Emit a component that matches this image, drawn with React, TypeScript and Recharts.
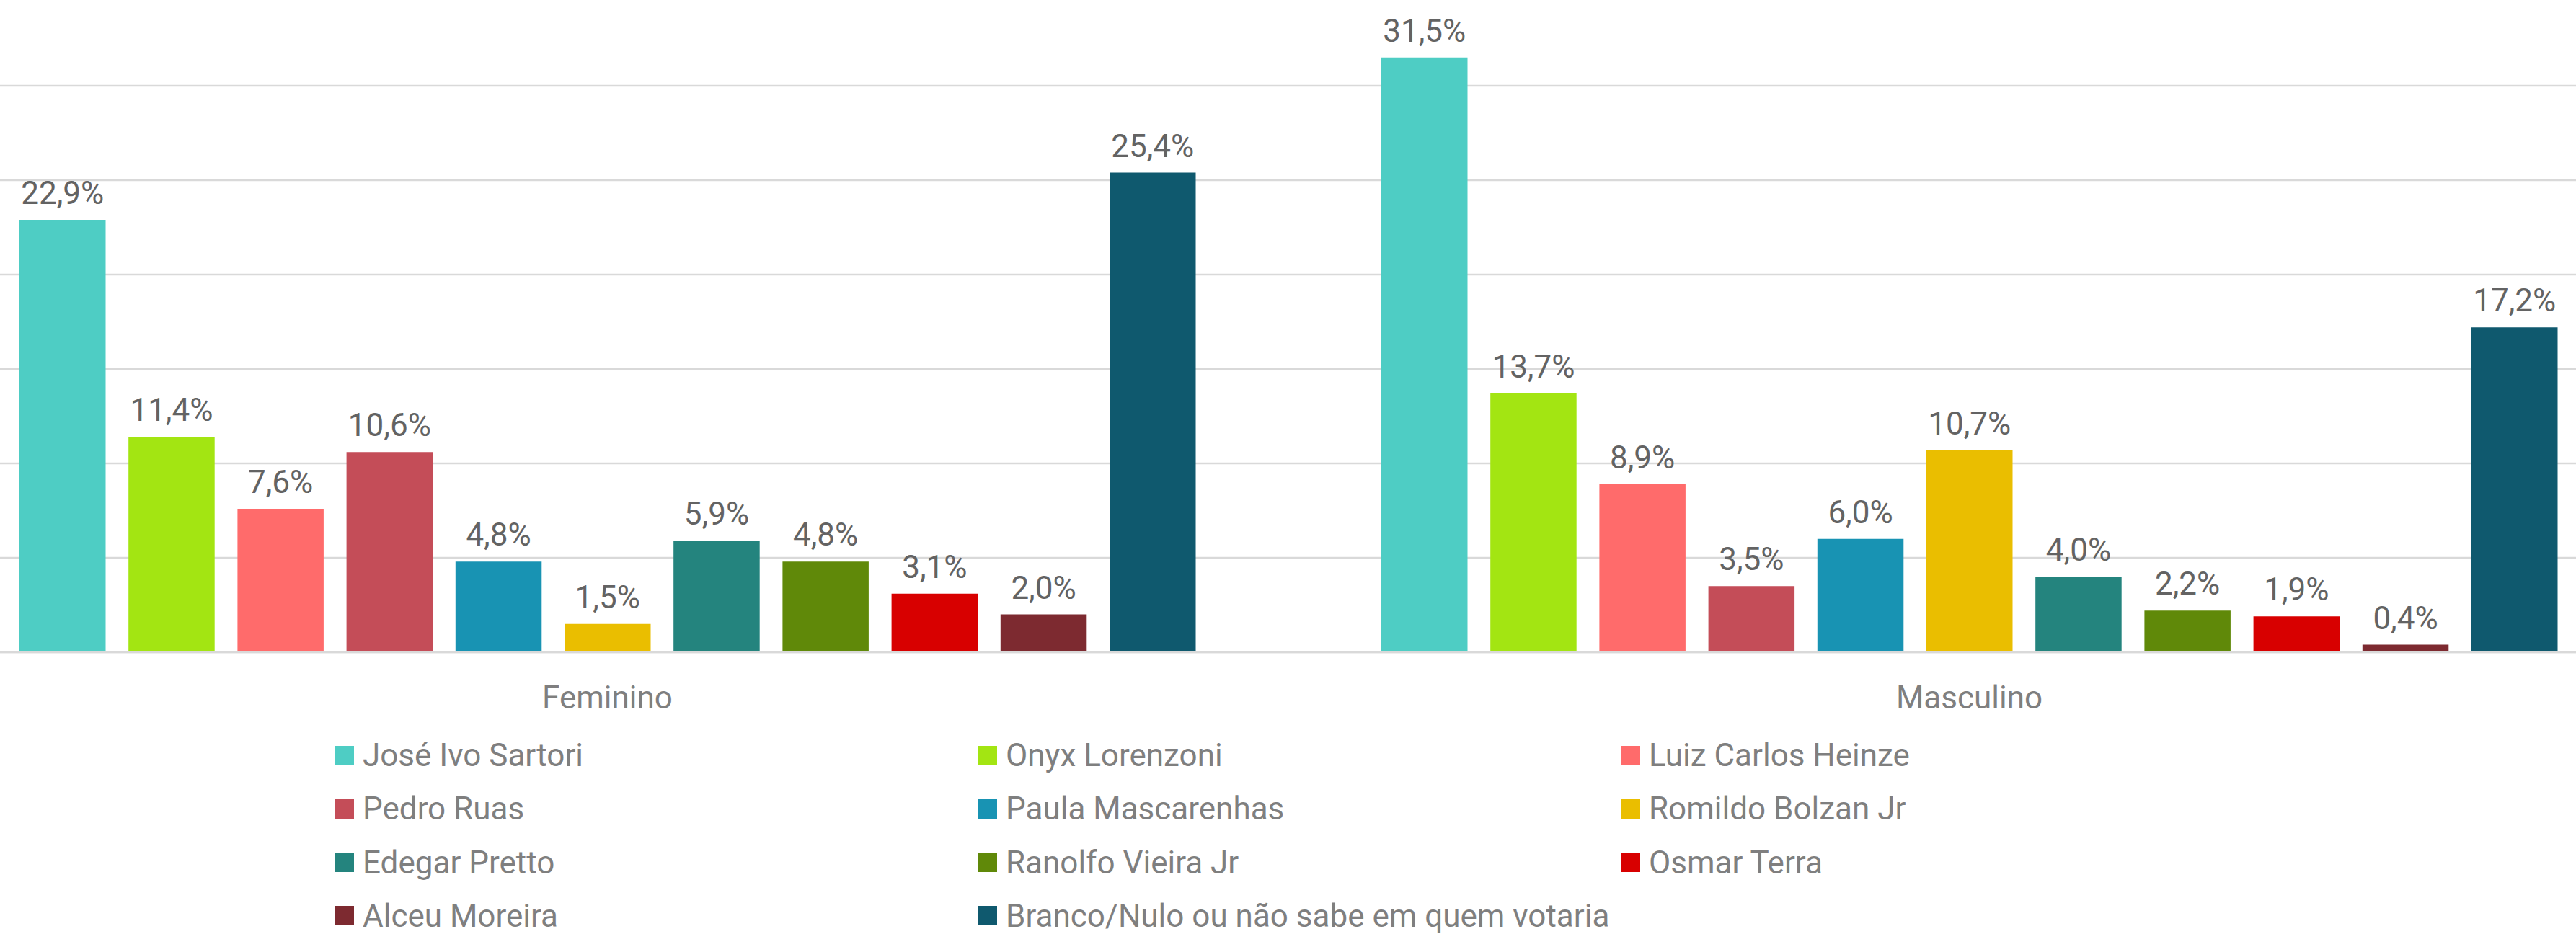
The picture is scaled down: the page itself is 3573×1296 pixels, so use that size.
import { Bar, BarChart, CartesianGrid, LabelList, XAxis, YAxis } from "recharts";

const categories = ["Feminino", "Masculino"];

const candidates = [
  "José Ivo Sartori",
  "Onyx Lorenzoni",
  "Luiz Carlos Heinze",
  "Pedro Ruas",
  "Paula Mascarenhas",
  "Romildo Bolzan Jr",
  "Edegar Pretto",
  "Ranolfo Vieira Jr",
  "Osmar Terra",
  "Alceu Moreira",
  "Branco/Nulo ou não sabe em quem votaria",
];

const colors = [
  "#4ECDC4",
  "#A3E512",
  "#FF6B6B",
  "#C44D58",
  "#1893B3",
  "#EABE00",
  "#24847E",
  "#608909",
  "#D80000",
  "#7D2A30",
  "#0F596E",
];

const feminino = [22.9, 11.4, 7.6, 10.6, 4.8, 1.5, 5.9, 4.8, 3.1, 2.0, 25.4];
const masculino = [31.5, 13.7, 8.9, 3.5, 6.0, 10.7, 4.0, 2.2, 1.9, 0.4, 17.2];

const yTicks = [0, 5, 10, 15, 20, 25, 30, 35];

const data = categories.map((cat, ci) => {
  const row: Record<string, string | number> = { cat };
  const values = ci === 0 ? feminino : masculino;
  candidates.forEach((_, i) => {
    row[`s${i}`] = values[i];
  });
  return row;
});

const FONT = "Roboto, 'Open Sans', sans-serif";

const fmt = (v: unknown) => `${Number(v).toFixed(1).replace(".", ",")}%`;

function ChartLegend() {
  return (
    <>
      {candidates.map((name, i) => {
        const col = i % 3;
        const row = Math.floor(i / 3);
        return (
          <div
            key={name}
            style={{
              position: "absolute",
              left: [464, 1356, 2248][col],
              top: 1048 + row * 74.3 - 30,
              height: 60,
              display: "flex",
              alignItems: "center",
              whiteSpace: "nowrap",
              fontFamily: FONT,
              fontSize: 44,
              color: "#7f7f7f",
            }}
          >
            <span
              style={{
                display: "inline-block",
                width: 27,
                height: 27,
                background: colors[i],
                marginRight: 12,
              }}
            />
            {name}
          </div>
        );
      })}
    </>
  );
}

export default function App() {
  return (
    <div
      style={{
        position: "absolute",
        left: 0,
        top: 0,
        width: 3573,
        height: 1296,
        overflow: "hidden",
        background: "#fff",
      }}
    >
      <div style={{ position: "absolute", left: -102, top: -12 }}>
        <BarChart
          width={3778}
          height={1308}
          data={data}
          margin={{ top: 0, right: 0, bottom: 0, left: 0 }}
          barSize={119.5}
          barGap={31.7}
        >
          <CartesianGrid vertical={false} stroke="#d9d9d9" strokeWidth={2.5} />
          <XAxis
            dataKey="cat"
            height={391}
            tickLine={false}
            axisLine={{ stroke: "#d9d9d9", strokeWidth: 2.5 }}
            tickMargin={41}
            tick={{ fontSize: 44, fill: "#7f7f7f", fontFamily: FONT }}
          />
          <YAxis hide domain={[0, 35]} ticks={yTicks} />
          {candidates.map((name, i) => (
            <Bar
              key={name}
              dataKey={`s${i}`}
              name={name}
              fill={colors[i]}
              isAnimationActive={false}
            >
              <LabelList
                dataKey={`s${i}`}
                position="top"
                offset={22}
                formatter={fmt}
                style={{ fontSize: 44, fill: "#636363", fontFamily: FONT }}
              />
            </Bar>
          ))}
        </BarChart>
      </div>
      <ChartLegend />
    </div>
  );
}
